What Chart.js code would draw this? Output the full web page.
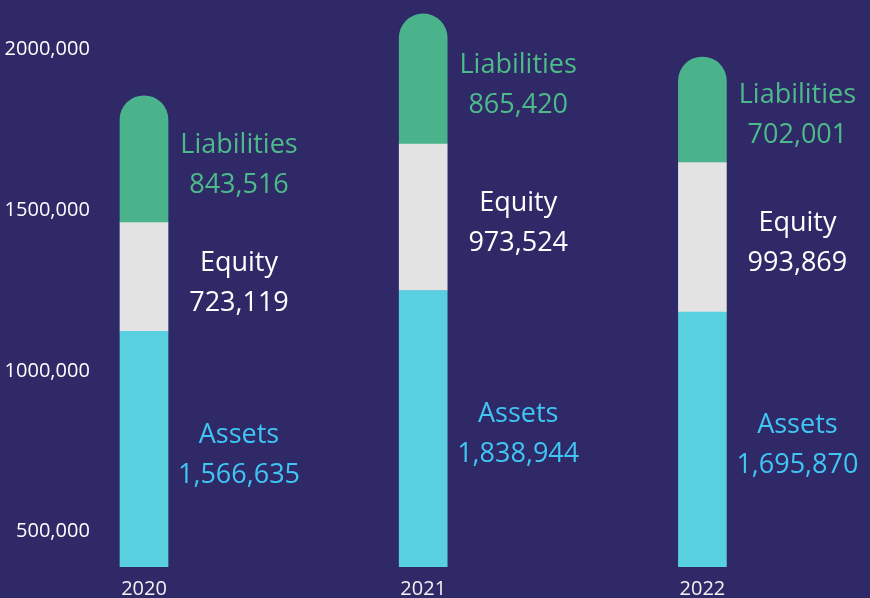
<!DOCTYPE html>
<html>
<head>
<meta charset="utf-8">
<script src="https://cdn.jsdelivr.net/npm/chart.js@4/dist/chart.umd.min.js"></script>
<style>
  html, body { margin: 0; padding: 0; background: #302968; }
  #wrap { width: 870px; height: 598px; position: relative; }
</style>
</head>
<body>
<div id="wrap"><canvas id="chart"></canvas></div>
<script>
const years = ['2020', '2021', '2022'];
const assets = [1566635, 1838944, 1695870];
const equity = [723119, 973524, 993869];
const liabilities = [843516, 865420, 702001];
const seriesNames = ['Assets', 'Equity', 'Liabilities'];
const yTickValues = [500000, 1000000, 1500000, 2000000];
const yTickLabels = ['500,000', '1000,000', '1500,000', '2000,000'];

const BG = '#302968';
const FONT = "'Open Sans', 'Noto Sans', sans-serif";
const labelColors = ['#3fc6f2', '#ffffff', '#4dbb89'];

const bgPlugin = {
  id: 'bg',
  beforeDraw(chart) {
    const ctx = chart.ctx;
    ctx.save();
    ctx.fillStyle = BG;
    ctx.fillRect(0, 0, chart.width, chart.height);
    ctx.restore();
  },
};

// name + value written to the right of each segment
const segmentLabels = {
  id: 'segmentLabels',
  afterDatasetsDraw(chart) {
    const ctx = chart.ctx;
    ctx.save();
    ctx.font = `27px ${FONT}`;
    ctx.textAlign = 'center';
    ctx.textBaseline = 'middle';
    chart.data.datasets.forEach((ds, i) => {
      chart.getDatasetMeta(i).data.forEach((bar, j) => {
        const mid = (bar.y + bar.base) / 2 + 5;
        const x = bar.x + 95;
        ctx.fillStyle = labelColors[i];
        ctx.fillText(seriesNames[i], x, mid - 19);
        ctx.fillText(ds.data[j].toLocaleString('en-US'), x, mid + 21);
      });
    });
    ctx.restore();
  },
};

new Chart(document.getElementById('chart'), {
  type: 'bar',
  data: {
    labels: years,
    datasets: [
      { label: seriesNames[0], data: assets, backgroundColor: '#58d0e0', barThickness: 48 },
      { label: seriesNames[1], data: equity, backgroundColor: '#e3e3e3', barThickness: 48 },
      { label: seriesNames[2], data: liabilities, backgroundColor: '#4ab38c', barThickness: 48, borderRadius: 24 },
    ],
  },
  options: {
    responsive: true,
    maintainAspectRatio: false,
    animation: false,
    layout: { padding: { left: 4, right: 28, top: 0, bottom: -13 } },
    plugins: {
      legend: { display: false },
      tooltip: { enabled: false },
    },
    scales: {
      x: {
        stacked: true,
        grid: { display: false, drawTicks: false },
        border: { display: false },
        ticks: { color: '#f2f2f2', padding: 10, font: { family: FONT, size: 20 } },
      },
      y: {
        stacked: true,
        display: false,
        min: 0,
        max: 3689400,
      },
      y2: {
        position: 'left',
        min: 390200,
        max: 2115400,
        grid: { display: false, drawTicks: false },
        border: { display: false },
        afterBuildTicks: (axis) => {
          axis.ticks = yTickValues.map((v) => ({ value: v }));
        },
        ticks: {
          mirror: true,
          crossAlign: 'far',
          padding: 0.2,
          color: '#ffffff',
          font: { family: FONT, size: 20 },
          callback: (value, index) => yTickLabels[index],
        },
      },
    },
  },
  plugins: [bgPlugin, segmentLabels],
});
</script>
</body>
</html>
